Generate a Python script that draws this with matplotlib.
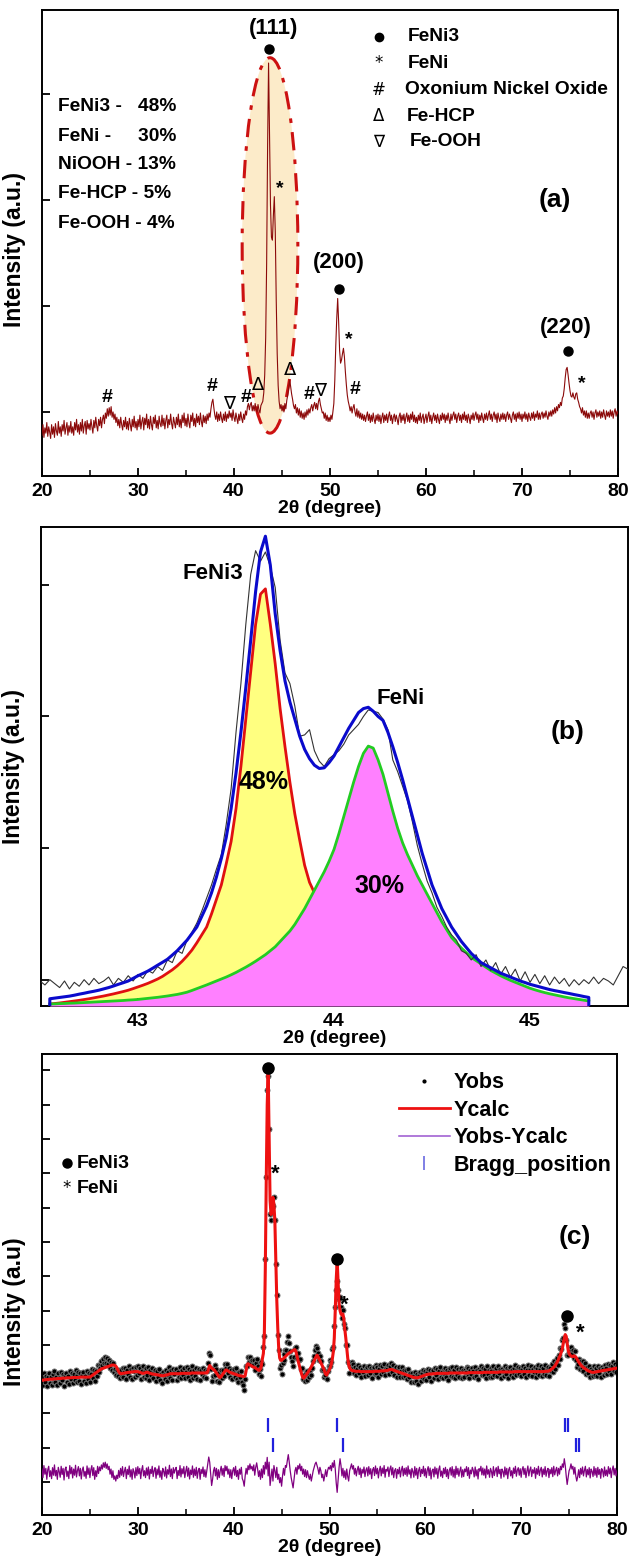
import numpy as np
import matplotlib
matplotlib.use('Agg')
import matplotlib.pyplot as plt
from matplotlib.patches import Ellipse
from matplotlib.lines import Line2D
from matplotlib.ticker import MultipleLocator, FixedLocator

plt.rcParams['font.family'] = ['Liberation Sans', 'DejaVu Sans']
plt.rcParams['font.weight'] = 'bold'

# ---------------- panel (a): raw pattern, 0.1 deg steps, 20..80
two_theta = np.round(np.arange(20.0, 80.05, 0.1), 1)
xrd_a = [
    0.78, 0.88, 0.76, 0.85, 0.80, 0.90, 0.77, 0.86, 0.81, 0.75,
    0.88, 0.79, 0.86, 0.76, 0.89, 0.82, 0.78, 0.91, 0.80, 0.86,
    0.77, 0.88, 0.82, 0.92, 0.79, 0.85, 0.90, 0.78, 0.87, 0.81,
    0.91, 0.80, 0.86, 0.78, 0.90, 0.83, 0.93, 0.81, 0.88, 0.79,
    0.90, 0.82, 0.93, 0.80, 0.87, 0.91, 0.79, 0.92, 0.84, 0.89,
    0.83, 0.93, 0.86, 0.80, 0.92, 0.85, 0.95, 0.87, 0.82, 0.93,
    0.87, 0.95, 0.85, 0.93, 0.97, 0.89, 0.99, 0.94, 1.03, 0.96,
    1.04, 0.97, 1.05, 0.95, 1.00, 0.93, 0.98, 0.90, 0.95, 0.87,
    0.93, 0.85, 0.95, 0.88, 0.83, 0.92, 0.86, 0.95, 0.84, 0.91,
    0.83, 0.94, 0.88, 0.82, 0.93, 0.86, 0.96, 0.85, 0.91, 0.83,
    0.93, 0.86, 0.97, 0.84, 0.91, 0.95, 0.83, 0.94, 0.88, 0.98,
    0.85, 0.93, 0.84, 0.96, 0.88, 0.83, 0.95, 0.89, 0.97, 0.85,
    0.92, 0.84, 0.96, 0.89, 0.86, 0.97, 0.87, 0.94, 0.84, 0.92,
    0.97, 0.85, 0.93, 0.88, 0.98, 0.89, 0.84, 0.95, 0.90, 0.85,
    0.95, 0.88, 0.98, 0.86, 0.93, 0.85, 0.97, 0.90, 0.99, 0.87,
    0.94, 0.86, 0.98, 0.90, 0.85, 0.97, 0.91, 0.99, 0.87, 0.94,
    0.86, 0.98, 0.90, 0.96, 0.88, 0.99, 0.91, 0.86, 0.97, 0.90,
    0.96, 0.89, 0.98, 0.92, 0.99, 0.95, 1.03, 1.09, 1.12, 1.04,
    0.97, 0.93, 1.00, 0.91, 0.98, 0.92, 1.00, 0.94, 0.90, 0.98,
    0.92, 1.00, 0.91, 0.98, 0.94, 1.01, 0.95, 0.99, 0.92, 1.02,
    0.95, 0.91, 0.99, 0.94, 0.89, 0.98, 0.92, 1.00, 0.94, 0.90,
    0.98, 0.93, 1.01, 0.97, 1.05, 1.08, 1.02, 1.07, 1.09, 1.01,
    1.06, 1.01, 1.08, 1.03, 1.00, 1.07, 1.02, 0.99, 1.06, 1.08,
    1.10, 1.18, 1.35, 1.70, 2.40, 3.50, 4.29, 3.60, 2.95, 2.65,
    2.62, 2.85, 3.03, 2.70, 2.05, 1.55, 1.25, 1.10, 1.03, 1.07,
    1.01, 1.06, 1.00, 1.08, 1.03, 1.11, 1.16, 1.23, 1.30, 1.24,
    1.17, 1.12, 1.06, 1.03, 1.07, 0.99, 1.04, 0.97, 1.03, 0.95,
    1.01, 0.94, 0.99, 0.93, 1.00, 0.95, 1.02, 0.97, 1.03, 0.99,
    1.04, 1.07, 1.01, 1.06, 1.09, 1.03, 1.08, 1.02, 1.10, 1.13,
    1.07, 1.03, 0.99, 1.00, 0.94, 0.99, 0.92, 0.97, 0.91, 0.95,
    0.91, 0.97, 0.93, 1.00, 1.08, 1.30, 1.62, 1.88, 2.07, 1.85,
    1.58, 1.46, 1.49, 1.55, 1.60, 1.52, 1.38, 1.26, 1.16, 1.10,
    1.06, 1.01, 1.05, 0.99, 1.04, 1.07, 1.00, 0.96, 1.03, 0.95,
    1.01, 0.94, 0.99, 0.93, 0.98, 0.92, 0.97, 0.91, 0.96, 1.00,
    0.92, 0.98, 0.90, 0.97, 0.91, 0.99, 0.93, 0.89, 0.97, 0.92,
    0.98, 0.91, 0.97, 0.89, 0.95, 0.99, 0.90, 0.97, 0.92, 0.98,
    0.90, 0.96, 1.00, 0.92, 0.97, 0.89, 0.95, 0.98, 0.91, 0.97,
    0.93, 0.88, 0.96, 0.99, 0.90, 0.97, 0.92, 0.98, 0.89, 0.95,
    0.99, 0.91, 0.97, 0.90, 0.98, 0.93, 1.00, 0.91, 0.97, 0.90,
    0.95, 0.89, 0.97, 0.92, 0.99, 0.90, 0.95, 0.98, 0.89, 0.94,
    0.98, 0.90, 0.96, 1.00, 0.91, 0.97, 0.89, 0.95, 0.99, 0.92,
    0.97, 0.90, 0.98, 0.93, 0.89, 0.97, 0.92, 0.99, 0.93, 0.98,
    0.90, 0.97, 0.92, 0.99, 0.93, 0.89, 0.98, 0.92, 0.97, 1.00,
    0.93, 0.98, 0.90, 0.96, 0.99, 0.92, 0.97, 0.90, 0.98, 0.93,
    1.00, 0.92, 0.97, 0.90, 0.98, 0.94, 0.89, 0.97, 0.93, 0.99,
    0.92, 0.97, 1.00, 0.93, 0.98, 0.90, 0.97, 0.92, 0.99, 0.94,
    0.90, 0.98, 0.93, 0.99, 0.92, 0.97, 1.01, 0.93, 0.98, 0.91,
    0.97, 1.00, 0.93, 0.98, 0.90, 0.99, 0.94, 0.91, 0.98, 0.93,
    0.99, 0.93, 0.98, 0.91, 0.97, 1.00, 0.93, 0.98, 0.94, 0.90,
    0.97, 1.00, 0.93, 0.98, 0.91, 0.99, 0.94, 1.00, 0.93, 0.98,
    0.91, 0.98, 0.94, 1.00, 0.93, 0.98, 0.91, 0.99, 0.95, 0.92,
    0.99, 0.94, 1.00, 0.92, 0.98, 0.95, 1.01, 0.93, 0.99, 0.93,
    0.98, 1.00, 0.94, 0.99, 0.95, 1.01, 0.96, 0.93, 1.00, 0.96,
    1.01, 0.96, 1.02, 0.98, 1.04, 0.99, 1.05, 1.01, 1.07, 1.04,
    1.09, 1.06, 1.13, 1.15, 1.22, 1.32, 1.40, 1.42, 1.35, 1.27,
    1.20, 1.15, 1.14, 1.18, 1.14, 1.12, 1.17, 1.18, 1.12, 1.09,
    1.05, 1.03, 0.99, 1.04, 0.97, 1.01, 0.95, 1.01, 0.94, 0.99,
    0.94, 0.99, 1.01, 0.95, 1.00, 0.93, 0.99, 1.02, 0.95, 1.00,
    0.96, 1.01, 0.94, 1.00, 0.95, 1.02, 0.97, 0.93, 1.01, 0.96,
    1.00, 0.95, 1.02, 0.96, 1.01, 0.94, 1.00, 1.03, 0.96, 1.01,
    0.98,
]

# peak / phase labels of panel (a): (x, y, symbol)
phase_dots_a = [(43.6, 4.42), (50.9, 2.16), (74.8, 1.57)]
phase_marks_a = [
    (44.75, 3.11, '*'), (51.95, 1.68, '*'), (76.2, 1.27, '*'),
    (26.8, 1.14, '#'), (37.7, 1.24, '#'), (41.3, 1.14, '#'),
    (47.8, 1.16, '#'), (52.6, 1.21, '#'),
    (42.5, 1.25, 'Δ'), (45.8, 1.40, 'Δ'),
    (39.5, 1.08, '∇'), (49.0, 1.21, '∇'),
]
hkl_labels = [(44.1, 4.62, '(111)'), (50.9, 2.41, '(200)'), (74.6, 1.80, '(220)')]
legend_a = ['FeNi3', 'FeNi', 'Oxonium Nickel Oxide', 'Fe-HCP', 'Fe-OOH']
legend_a_y = [4.54, 4.29, 4.04, 3.79, 3.55]
legend_a_text_x = [58.1, 58.1, 57.8, 58.0, 58.35]
fractions_a = ['FeNi3 -   48%', 'FeNi -     30%', 'NiOOH - 13%', 'Fe-HCP - 5%', 'Fe-OOH - 4%']
fractions_a_y = [3.88, 3.60, 3.33, 3.06, 2.78]

# ---------------- panel (b): peak fit of the (111) region, 0.025 deg steps
fit_x = np.round(np.arange(42.55, 45.3001, 0.025), 3)
feni3_fit = [
    0.815, 0.819, 0.823, 0.828, 0.833, 0.838, 0.843, 0.849, 0.855, 0.862,
    0.869, 0.876, 0.884, 0.892, 0.901, 0.910, 0.920, 0.932, 0.945, 0.958,
    0.972, 0.988, 1.005, 1.025, 1.050, 1.075, 1.105, 1.140, 1.180, 1.225,
    1.280, 1.340, 1.400, 1.500, 1.610, 1.720, 1.880, 2.050, 2.300, 2.620,
    2.980, 3.340, 3.700, 3.930, 3.970, 3.700, 3.400, 3.060, 2.770, 2.500,
    2.260, 2.060, 1.870, 1.740, 1.660, 1.560, 1.480, 1.400, 1.330, 1.280,
    1.220, 1.180, 1.140,
]
feni_fit = [
    0.815, 0.816, 0.818, 0.819, 0.821, 0.822, 0.824, 0.826, 0.828, 0.830,
    0.832, 0.834, 0.836, 0.838, 0.840, 0.842, 0.845, 0.847, 0.850, 0.854,
    0.858, 0.862, 0.866, 0.871, 0.876, 0.882, 0.888, 0.896, 0.905, 0.918,
    0.932, 0.946, 0.960, 0.975, 0.990, 1.005, 1.020, 1.037, 1.055, 1.075,
    1.095, 1.117, 1.140, 1.165, 1.190, 1.220, 1.250, 1.290, 1.330, 1.370,
    1.420, 1.480, 1.540, 1.610, 1.680, 1.750, 1.820, 1.900, 1.990, 2.110,
    2.240, 2.370, 2.500, 2.620, 2.720, 2.775, 2.760, 2.670, 2.560, 2.420,
    2.280, 2.150, 2.040, 1.950, 1.870, 1.790, 1.720, 1.650, 1.580, 1.510,
    1.440, 1.380, 1.320, 1.280, 1.240, 1.205, 1.170, 1.145, 1.120, 1.095,
    1.070, 1.050, 1.030, 1.012, 0.995, 0.980, 0.965, 0.950, 0.935, 0.923,
    0.912, 0.902, 0.893, 0.885, 0.877, 0.869, 0.862, 0.856, 0.850, 0.844,
    0.838,
]
envelope_fit = [
    0.855, 0.860, 0.865, 0.870, 0.875, 0.882, 0.890, 0.897, 0.905, 0.912,
    0.920, 0.930, 0.940, 0.952, 0.965, 0.977, 0.990, 1.010, 1.030, 1.047,
    1.065, 1.087, 1.110, 1.132, 1.155, 1.187, 1.220, 1.260, 1.300, 1.350,
    1.400, 1.480, 1.560, 1.660, 1.780, 1.920, 2.080, 2.300, 2.570, 2.880,
    3.220, 3.580, 3.950, 4.250, 4.370, 4.150, 3.780, 3.500, 3.270, 3.110,
    2.980, 2.850, 2.750, 2.680, 2.630, 2.605, 2.610, 2.650, 2.700, 2.770,
    2.840, 2.910, 2.970, 3.030, 3.060, 3.070, 3.040, 3.000, 2.970, 2.880,
    2.770, 2.650, 2.520, 2.380, 2.240, 2.100, 1.960, 1.840, 1.720, 1.630,
    1.540, 1.470, 1.400, 1.345, 1.290, 1.245, 1.200, 1.165, 1.130, 1.110,
    1.090, 1.070, 1.050, 1.035, 1.020, 1.005, 0.990, 0.978, 0.965, 0.955,
    0.945, 0.935, 0.925, 0.917, 0.910, 0.902, 0.895, 0.887, 0.880, 0.872,
    0.865,
]
fit_floor = 0.80
obs_b_x = np.round(np.arange(42.5, 45.5001, 0.025), 3)
obs_b = [
    0.99, 0.96, 1.00, 0.97, 0.94, 0.99, 0.93, 0.98, 0.95, 1.00,
    0.96, 1.01, 0.97, 0.99, 1.02, 0.96, 1.01, 0.98, 1.03, 0.99,
    1.04, 1.01, 1.07, 1.05, 1.10, 1.07, 1.15, 1.13, 1.22, 1.20,
    1.30, 1.36, 1.43, 1.52, 1.62, 1.72, 1.84, 1.95, 2.18, 2.45,
    2.88, 3.25, 3.70, 4.08, 4.26, 4.18, 4.25, 4.14, 3.98, 3.58,
    3.33, 3.25, 3.08, 2.85, 2.86, 2.90, 2.74, 2.66, 2.62, 2.68,
    2.71, 2.74, 2.79, 2.86, 2.90, 2.94, 3.00, 3.05, 3.04, 3.03,
    2.98, 2.90, 2.67, 2.58, 2.47, 2.36, 2.20, 2.02, 1.88, 1.75,
    1.66, 1.55, 1.48, 1.40, 1.34, 1.30, 1.22, 1.20, 1.15, 1.19,
    1.10, 1.15, 1.07, 1.13, 1.04, 1.10, 1.02, 1.08, 0.99, 1.06,
    0.98, 1.04, 0.97, 1.03, 0.96, 1.02, 0.97, 1.01, 0.95, 1.00,
    0.96, 1.00, 0.97, 1.02, 0.97, 1.01, 0.99, 0.96, 1.03, 1.10,
    1.08,
]

# ---------------- panel (c): Rietveld refinement
ycalc = [
    2.97, 2.97, 2.98, 2.98, 2.98, 2.99, 2.99, 2.99, 3.00, 3.00,
    3.00, 3.00, 3.01, 3.01, 3.01, 3.01, 3.02, 3.02, 3.02, 3.02,
    3.02, 3.03, 3.03, 3.03, 3.03, 3.03, 3.04, 3.04, 3.04, 3.04,
    3.04, 3.04, 3.05, 3.05, 3.05, 3.05, 3.05, 3.05, 3.05, 3.05,
    3.06, 3.06, 3.06, 3.06, 3.06, 3.06, 3.06, 3.06, 3.06, 3.06,
    3.06, 3.08, 3.10, 3.12, 3.14, 3.16, 3.18, 3.20, 3.22, 3.24,
    3.26, 3.28, 3.30, 3.31, 3.32, 3.33, 3.34, 3.35, 3.36, 3.37,
    3.38, 3.39, 3.40, 3.41, 3.41, 3.41, 3.40, 3.38, 3.34, 3.28,
    3.22, 3.18, 3.16, 3.16, 3.17, 3.17, 3.18, 3.18, 3.19, 3.19,
    3.20, 3.20, 3.20, 3.21, 3.21, 3.21, 3.22, 3.22, 3.22, 3.22,
    3.22, 3.21, 3.20, 3.19, 3.18, 3.17, 3.17, 3.18, 3.19, 3.20,
    3.20, 3.19, 3.18, 3.17, 3.16, 3.15, 3.15, 3.14, 3.14, 3.13,
    3.13, 3.12, 3.12, 3.11, 3.11, 3.10, 3.10, 3.10, 3.11, 3.12,
    3.12, 3.13, 3.14, 3.15, 3.16, 3.16, 3.16, 3.16, 3.16, 3.16,
    3.16, 3.16, 3.16, 3.16, 3.16, 3.17, 3.17, 3.17, 3.17, 3.17,
    3.17, 3.17, 3.17, 3.17, 3.17, 3.17, 3.18, 3.18, 3.18, 3.18,
    3.18, 3.18, 3.18, 3.18, 3.18, 3.18, 3.18, 3.18, 3.18, 3.18,
    3.18, 3.18, 3.18, 3.22, 3.32, 3.40, 3.36, 3.32, 3.30, 3.28,
    3.26, 3.22, 3.18, 3.14, 3.10, 3.06, 3.05, 3.08, 3.12, 3.16,
    3.20, 3.24, 3.27, 3.26, 3.24, 3.22, 3.20, 3.19, 3.18, 3.17,
    3.16, 3.15, 3.14, 3.13, 3.12, 3.11, 3.10, 3.10, 3.09, 3.09,
    3.08, 3.08, 3.10, 3.25, 3.42, 3.45, 3.43, 3.41, 3.40, 3.38,
    3.36, 3.35, 3.34, 3.32, 3.30, 3.28, 3.26, 3.26, 3.30, 3.40,
    3.60, 3.75, 4.30, 6.20, 8.80, 11.00, 11.95, 10.00, 8.20, 7.80,
    8.00, 8.30, 8.10, 7.60, 6.50, 5.30, 4.50, 3.90, 3.62, 3.55,
    3.55, 3.58, 3.60, 3.63, 3.66, 3.69, 3.72, 3.74, 3.76, 3.78,
    3.80, 3.82, 3.84, 3.85, 3.86, 3.80, 3.68, 3.56, 3.45, 3.34,
    3.24, 3.14, 3.06, 3.03, 3.06, 3.10, 3.14, 3.18, 3.22, 3.26,
    3.31, 3.36, 3.42, 3.48, 3.54, 3.60, 3.66, 3.70, 3.66, 3.60,
    3.54, 3.48, 3.42, 3.36, 3.30, 3.22, 3.14, 3.12, 3.18, 3.23,
    3.28, 3.35, 3.45, 3.60, 3.80, 4.20, 5.00, 5.90, 6.45, 5.80,
    5.20, 5.00, 4.90, 4.87, 4.90, 4.75, 4.45, 4.20, 3.90, 3.62,
    3.42, 3.33, 3.28, 3.26, 3.25, 3.24, 3.24, 3.23, 3.23, 3.23,
    3.23, 3.23, 3.22, 3.22, 3.22, 3.22, 3.22, 3.22, 3.22, 3.22,
    3.22, 3.22, 3.22, 3.22, 3.22, 3.22, 3.22, 3.23, 3.23, 3.23,
    3.23, 3.23, 3.23, 3.24, 3.24, 3.24, 3.24, 3.24, 3.25, 3.25,
    3.25, 3.26, 3.27, 3.28, 3.28, 3.28, 3.27, 3.26, 3.25, 3.24,
    3.23, 3.22, 3.21, 3.20, 3.19, 3.18, 3.17, 3.16, 3.15, 3.14,
    3.13, 3.12, 3.11, 3.10, 3.09, 3.08, 3.07, 3.06, 3.05, 3.05,
    3.04, 3.04, 3.04, 3.05, 3.06, 3.07, 3.08, 3.09, 3.10, 3.11,
    3.12, 3.13, 3.14, 3.14, 3.15, 3.15, 3.15, 3.15, 3.16, 3.16,
    3.16, 3.16, 3.17, 3.17, 3.17, 3.17, 3.17, 3.17, 3.17, 3.17,
    3.17, 3.17, 3.17, 3.17, 3.17, 3.18, 3.18, 3.18, 3.18, 3.18,
    3.18, 3.18, 3.18, 3.18, 3.18, 3.18, 3.18, 3.18, 3.18, 3.18,
    3.18, 3.18, 3.18, 3.18, 3.18, 3.19, 3.19, 3.19, 3.19, 3.19,
    3.19, 3.19, 3.19, 3.19, 3.19, 3.19, 3.19, 3.19, 3.19, 3.19,
    3.19, 3.20, 3.20, 3.20, 3.20, 3.20, 3.20, 3.20, 3.20, 3.20,
    3.20, 3.20, 3.20, 3.20, 3.20, 3.20, 3.20, 3.21, 3.21, 3.21,
    3.21, 3.21, 3.21, 3.21, 3.21, 3.21, 3.21, 3.21, 3.21, 3.21,
    3.21, 3.21, 3.21, 3.22, 3.22, 3.22, 3.22, 3.22, 3.22, 3.22,
    3.22, 3.22, 3.22, 3.22, 3.22, 3.22, 3.22, 3.22, 3.22, 3.22,
    3.22, 3.22, 3.22, 3.22, 3.22, 3.22, 3.22, 3.22, 3.22, 3.22,
    3.22, 3.22, 3.22, 3.22, 3.22, 3.23, 3.23, 3.23, 3.23, 3.24,
    3.25, 3.28, 3.30, 3.32, 3.35, 3.38, 3.42, 3.47, 3.52, 3.58,
    3.65, 3.72, 3.80, 3.90, 4.05, 4.20, 4.30, 4.25, 4.05, 3.85,
    3.75, 3.70, 3.68, 3.66, 3.66, 3.68, 3.67, 3.65, 3.60, 3.55,
    3.50, 3.46, 3.42, 3.39, 3.36, 3.34, 3.32, 3.30, 3.28, 3.26,
    3.24, 3.23, 3.22, 3.21, 3.20, 3.20, 3.20, 3.21, 3.21, 3.22,
    3.22, 3.23, 3.23, 3.24, 3.24, 3.25, 3.25, 3.26, 3.26, 3.27,
    3.27, 3.28, 3.28, 3.29, 3.29, 3.30, 3.30, 3.31, 3.31, 3.32,
    3.32,
]
yobs_minus_ycalc = [
    0.10, -0.15, 0.20, -0.05, 0.12, -0.20, 0.08, 0.18, -0.12, 0.05,
    -0.18, 0.14, -0.08, 0.22, -0.10, 0.06, -0.20, 0.15, 0.02, -0.14,
    0.18, -0.06, 0.12, -0.22, 0.09, 0.16, -0.12, 0.04, -0.18, 0.20,
    -0.04, 0.15, -0.16, 0.10, -0.08, 0.21, -0.13, 0.06, 0.17, -0.10,
    0.12, -0.19, 0.07, 0.16, -0.11, 0.03, -0.17, 0.19, -0.06, 0.13,
    -0.15, 0.08, 0.20, -0.09, 0.14, -0.20, 0.05, -0.12, 0.18, -0.03,
    0.16, 0.05, 0.22, 0.10, 0.28, 0.15, 0.30, 0.12, 0.25, 0.08,
    0.18, -0.05, 0.10, -0.15, 0.05, -0.20, -0.10, -0.25, -0.08, -0.18,
    0.06, -0.14, 0.12, -0.08, 0.17, -0.12, 0.04, 0.15, -0.18, 0.09,
    -0.06, 0.19, -0.13, 0.08, -0.20, 0.11, 0.02, -0.16, 0.14, -0.09,
    0.17, -0.04, 0.12, -0.18, 0.07, 0.20, -0.10, 0.05, -0.15, 0.13,
    -0.08, 0.16, -0.19, 0.09, -0.03, 0.18, -0.12, 0.06, 0.14, -0.17,
    0.10, -0.07, 0.19, -0.14, 0.05, -0.20, 0.12, 0.03, -0.11, 0.16,
    -0.16, 0.08, -0.05, 0.21, -0.12, 0.10, -0.18, 0.14, -0.02, 0.09,
    0.15, -0.18, 0.06, -0.09, 0.20, -0.13, 0.11, -0.04, 0.17, -0.15,
    0.04, 0.18, -0.11, 0.13, -0.19, 0.07, -0.06, 0.19, -0.14, 0.10,
    -0.09, 0.15, -0.17, 0.05, 0.12, -0.20, 0.09, -0.03, 0.16, -0.12,
    0.08, -0.14, 0.05, 0.25, 0.45, 0.30, -0.05, -0.38, -0.20, 0.05,
    0.15, -0.10, 0.12, -0.20, 0.08, -0.15, 0.05, 0.18, -0.08, 0.12,
    -0.12, 0.20, 0.05, 0.18, -0.05, 0.10, -0.15, 0.08, -0.18, 0.05,
    0.14, -0.08, 0.18, -0.12, 0.06, -0.20, 0.10, -0.05, 0.15, -0.18,
    -0.25, -0.40, -0.10, 0.12, -0.05, 0.20, 0.08, 0.25, 0.10, 0.18,
    0.05, 0.22, -0.08, 0.15, 0.28, 0.10, -0.12, 0.05, -0.20, 0.10,
    -0.15, 0.20, -0.05, 0.30, 0.10, 0.44, -0.10, 0.30, -0.38, -0.15,
    0.10, -0.25, 0.20, 0.05, -0.15, 0.15, -0.20, -0.05, -0.30, -0.15,
    -0.40, -0.10, 0.12, -0.08, 0.20, 0.15, 0.35, 0.52, 0.30, 0.05,
    -0.15, -0.30, -0.45, -0.20, 0.05, 0.15, -0.05, 0.20, 0.10, 0.25,
    0.05, 0.18, -0.05, 0.10, -0.12, 0.08, -0.15, 0.05, -0.10, -0.20,
    -0.05, -0.25, -0.10, 0.05, 0.15, 0.25, 0.30, 0.20, 0.10, -0.05,
    0.15, 0.05, -0.15, -0.05, -0.25, -0.10, 0.08, -0.12, 0.05, 0.15,
    0.10, 0.20, 0.05, 0.28, 0.15, 0.35, 0.10, -0.30, -0.58, -0.20,
    0.15, 0.40, 0.20, -0.10, 0.12, -0.15, 0.05, -0.20, 0.10, -0.12,
    -0.25, 0.05, 0.15, 0.25, 0.10, 0.20, -0.05, 0.12, -0.10, 0.08,
    0.18, -0.06, 0.13, -0.15, 0.09, -0.02, 0.16, -0.12, 0.07, 0.14,
    -0.10, 0.17, -0.05, 0.11, -0.18, 0.08, 0.14, -0.09, 0.19, -0.04,
    0.12, -0.16, 0.06, 0.18, -0.10, 0.13, -0.03, 0.20, -0.14, 0.09,
    0.04, 0.16, -0.12, 0.10, 0.19, -0.07, 0.14, -0.15, 0.06, 0.11,
    -0.17, 0.09, -0.04, 0.15, -0.13, 0.07, 0.18, -0.10, 0.12, -0.06,
    0.14, -0.11, 0.19, -0.05, 0.08, -0.16, 0.12, 0.03, -0.14, 0.17,
    -0.08, 0.12, -0.18, 0.06, 0.15, -0.12, 0.09, -0.03, 0.18, -0.10,
    0.11, -0.15, 0.07, 0.17, -0.09, 0.13, -0.19, 0.05, 0.10, -0.13,
    0.16, -0.05, 0.12, -0.17, 0.08, 0.19, -0.11, 0.04, -0.15, 0.12,
    -0.04, 0.15, -0.12, 0.09, -0.18, 0.06, 0.14, -0.08, 0.17, -0.13,
    0.09, -0.16, 0.18, -0.06, 0.12, -0.11, 0.05, 0.16, -0.14, 0.08,
    -0.12, 0.10, 0.02, 0.17, -0.09, 0.14, -0.17, 0.07, -0.04, 0.15,
    0.06, -0.13, 0.16, -0.10, 0.08, -0.19, 0.11, 0.04, 0.18, -0.07,
    0.13, -0.08, 0.10, -0.16, 0.19, -0.05, 0.08, -0.14, 0.12, 0.03,
    -0.15, 0.17, -0.09, 0.06, 0.14, -0.12, 0.18, -0.04, 0.09, -0.17,
    0.10, 0.03, -0.13, 0.16, -0.07, 0.12, -0.18, 0.08, 0.15, -0.10,
    0.05, -0.16, 0.13, -0.03, 0.18, -0.11, 0.07, 0.14, -0.08, 0.11,
    -0.14, 0.09, 0.17, -0.06, 0.12, -0.15, 0.04, 0.19, -0.10, 0.07,
    0.16, -0.12, 0.08, -0.02, 0.14, -0.17, 0.11, -0.05, 0.18, -0.09,
    0.07, 0.15, -0.13, 0.10, -0.06, 0.17, -0.11, 0.05, 0.12, -0.15,
    0.09, -0.04, 0.14, -0.12, 0.18, -0.07, 0.06, 0.15, -0.10, 0.12,
    -0.05, 0.18, 0.08, 0.25, 0.15, 0.40, 0.20, -0.10, -0.35, -0.15,
    0.05, 0.12, 0.25, 0.10, 0.18, -0.05, 0.15, -0.10, -0.25, -0.12,
    0.08, -0.15, 0.12, -0.05, 0.16, -0.10, 0.06, 0.18, -0.13, 0.09,
    -0.07, 0.14, -0.16, 0.10, 0.03, -0.12, 0.17, -0.08, 0.12, -0.14,
    0.15, -0.06, 0.09, -0.17, 0.11, 0.05, -0.13, 0.16, -0.09, 0.07,
    -0.11, 0.17, -0.04, 0.13, -0.15, 0.08, 0.19, -0.07, 0.12, -0.10,
    0.06,
]
diff_offset = 0.28
bragg_row1 = [43.60, 50.76, 74.60, 74.90]
bragg_row2 = [44.12, 51.38, 75.75, 76.05]
bragg_level = [1.65, 1.08]
phase_dots_c = [(43.6, 12.07), (50.8, 6.50), (74.8, 4.84)]
phase_stars_c = [(44.3, 8.98), (51.55, 5.16), (76.15, 4.34)]

ycalc = np.array(ycalc)
yobs = ycalc + np.array(yobs_minus_ycalc)

# ---------------- figure
fig = plt.figure(figsize=(6.37, 15.68), dpi=100)
H = 1568.0
W = 637.0
ax_a = fig.add_axes([42 / W, (H - 476) / H, 576 / W, 466 / H])
ax_b = fig.add_axes([41 / W, (H - 1006) / H, 587 / W, 479 / H])
ax_c = fig.add_axes([42 / W, (H - 1515) / H, 575 / W, 461 / H])

sym_font = ['DejaVu Sans']


def style_axis(ax, yticks, minor_x=None):
    for sp in ax.spines.values():
        sp.set_linewidth(1.4)
    ax.yaxis.set_major_locator(FixedLocator(yticks))
    ax.tick_params(axis='both', which='major', direction='in', length=6, width=1.3,
                   top=False, right=False, labelleft=False, labelsize=14, pad=5)
    if minor_x is not None:
        ax.xaxis.set_minor_locator(MultipleLocator(minor_x))
        ax.tick_params(axis='x', which='minor', direction='in', length=4, width=1.1, top=False)
    for lab in ax.get_xticklabels():
        lab.set_fontweight('bold')
    ax.set_xlabel('2θ (degree)', fontsize=14, fontweight='bold', labelpad=0)


def draw_xy(ax, x, y, **kw):
    n = min(len(x), len(y))
    return ax.plot(x[:n], y[:n], **kw)


def fill_xy(ax, x, y, floor, **kw):
    n = min(len(x), len(y))
    return ax.fill_between(x[:n], floor, y[:n], **kw)


# ---- (a)
ax_a.add_patch(Ellipse((43.75, 2.57), 5.8, 3.54, facecolor='#fcebc9', edgecolor='#cc1111',
                       linestyle=(0, (6, 3, 1.5, 3)), linewidth=2.2, zorder=1))
draw_xy(ax_a, two_theta, xrd_a, color='#8b0a0a', lw=0.8, zorder=3)
ax_a.set_xlim(20, 80)
ax_a.set_ylim(0.396, 4.79)
ax_a.xaxis.set_major_locator(MultipleLocator(10))
style_axis(ax_a, [1, 2, 3, 4], minor_x=5)
ax_a.set_ylabel('Intensity (a.u.)', fontsize=16.5, fontweight='bold')
ax_a.yaxis.set_label_coords(-0.028, 0.485)

for x, y in phase_dots_a:
    ax_a.plot(x, y, 'o', color='k', ms=6.5, zorder=4)
for x, y, s in phase_marks_a:
    if s in ('Δ', '∇'):
        ax_a.text(x, y, s, ha='center', va='center', fontsize=13, family=sym_font,
                  fontweight='normal', zorder=4)
    else:
        ax_a.text(x, y, s, ha='center', va='center', fontsize=14, fontweight='bold', zorder=4)
for x, y, s in hkl_labels:
    ax_a.text(x, y, s, ha='center', va='center', fontsize=16, fontweight='bold')

legend_a_syms = [None, '*', '#', 'Δ', '∇']
for s, y, tx, lab in zip(legend_a_syms, legend_a_y, legend_a_text_x, legend_a):
    if s is None:
        ax_a.plot(55.1, y, 'o', color='k', ms=6)
    else:
        ax_a.text(55.1, y, s, ha='center', va='center', fontsize=12,
                  family=sym_font, fontweight='normal')
    ax_a.text(tx, y, lab, ha='left', va='center', fontsize=13.8, fontweight='bold')
for lab, y in zip(fractions_a, fractions_a_y):
    ax_a.text(21.7, y, lab, ha='left', va='center', fontsize=13.8, fontweight='bold')
ax_a.text(73.4, 3.0, '(a)', ha='center', va='center', fontsize=19, fontweight='bold')

# ---- (b)
fill_xy(ax_b, fit_x, feni3_fit, fit_floor, color='#ffff80', lw=0, zorder=1)
draw_xy(ax_b, fit_x, feni3_fit, color='#e01010', lw=2, zorder=2)
fill_xy(ax_b, fit_x, feni_fit, fit_floor, color='#ff80ff', lw=0, zorder=3)
draw_xy(ax_b, fit_x, feni_fit, color='#22cc22', lw=2, zorder=4)
draw_xy(ax_b, obs_b_x, obs_b, color='#333333', lw=0.8, zorder=5)
n_env = min(len(fit_x), len(envelope_fit))
env_x = np.r_[fit_x[0], fit_x[:n_env], fit_x[n_env - 1]]
env_y = np.r_[fit_floor, envelope_fit[:n_env], fit_floor]
ax_b.plot(env_x, env_y, color='#0a0acc', lw=2.2, zorder=6)
ax_b.set_xlim(42.505, 45.5)
ax_b.set_ylim(0.80, 4.44)
ax_b.xaxis.set_major_locator(FixedLocator([43, 44, 45]))
style_axis(ax_b, [1, 2, 3, 4])
ax_b.set_ylabel('Intensity (a.u.)', fontsize=16.5, fontweight='bold')
ax_b.yaxis.set_label_coords(-0.027, 0.5)
ax_b.text(43.38, 4.09, 'FeNi3', ha='center', va='center', fontsize=16, fontweight='bold', zorder=7)
ax_b.text(44.34, 3.14, 'FeNi', ha='center', va='center', fontsize=16, fontweight='bold', zorder=7)
ax_b.text(43.64, 2.50, '48%', ha='center', va='center', fontsize=18, fontweight='bold', zorder=7)
ax_b.text(44.23, 1.71, '30%', ha='center', va='center', fontsize=18, fontweight='bold', zorder=7)
ax_b.text(45.19, 2.88, '(b)', ha='center', va='center', fontsize=19, fontweight='bold', zorder=7)

# ---- (c)
draw_xy(ax_c, two_theta, yobs, marker='o', ms=3.6, mfc='black', mec='#707070', mew=0.7,
        ls='none', zorder=2)
draw_xy(ax_c, two_theta, ycalc, color='#ee1111', lw=2.2, zorder=3)
draw_xy(ax_c, two_theta, np.array(yobs_minus_ycalc) + diff_offset, color='#800080', lw=0.9, zorder=3)
ax_c.plot(bragg_row1, [bragg_level[0]] * len(bragg_row1), '|', color='#2020dd', ms=10, mew=1.6, ls='none')
ax_c.plot(bragg_row2, [bragg_level[1]] * len(bragg_row2), '|', color='#2020dd', ms=10, mew=1.6, ls='none')
for x, y in phase_dots_c:
    ax_c.plot(x, y, 'o', color='k', ms=8, zorder=5)
for x, y in phase_stars_c:
    ax_c.text(x, y, '*', ha='center', va='center', fontsize=16, fontweight='bold', zorder=5)
ax_c.plot(22.6, 9.30, 'o', color='k', ms=6.5)
ax_c.text(22.6, 8.57, '*', ha='center', va='center', fontsize=12, family=sym_font, fontweight='normal')
ax_c.text(23.6, 9.30, 'FeNi3', ha='left', va='center', fontsize=14, fontweight='bold')
ax_c.text(23.6, 8.57, 'FeNi', ha='left', va='center', fontsize=14, fontweight='bold')
ax_c.text(75.6, 7.14, '(c)', ha='center', va='center', fontsize=19, fontweight='bold')
ax_c.set_xlim(20, 80)
ax_c.set_ylim(-0.96, 12.48)
ax_c.xaxis.set_major_locator(MultipleLocator(10))
style_axis(ax_c, list(range(0, 13)), minor_x=5)
ax_c.set_ylabel('Intensity (a.u)', fontsize=16.5, fontweight='bold')
ax_c.yaxis.set_label_coords(-0.028, 0.44)

handles = [
    Line2D([], [], marker='.', ls='none', color='k', ms=4),
    Line2D([], [], color='#ee1111', lw=2),
    Line2D([], [], color='#9a55d0', lw=1.1),
    Line2D([], [], marker='|', ls='none', color='#6a6ae0', ms=10, mew=1.2),
]
ax_c.legend(handles, ['Yobs', 'Ycalc', 'Yobs-Ycalc', 'Bragg_position'],
            loc='upper left', bbox_to_anchor=(0.62, 0.96), frameon=False,
            prop={'weight': 'bold', 'size': 15.5}, handlelength=2.4, handletextpad=0.15,
            labelspacing=0.3, borderaxespad=0, borderpad=0)

fig.savefig('out.png', dpi=100)
